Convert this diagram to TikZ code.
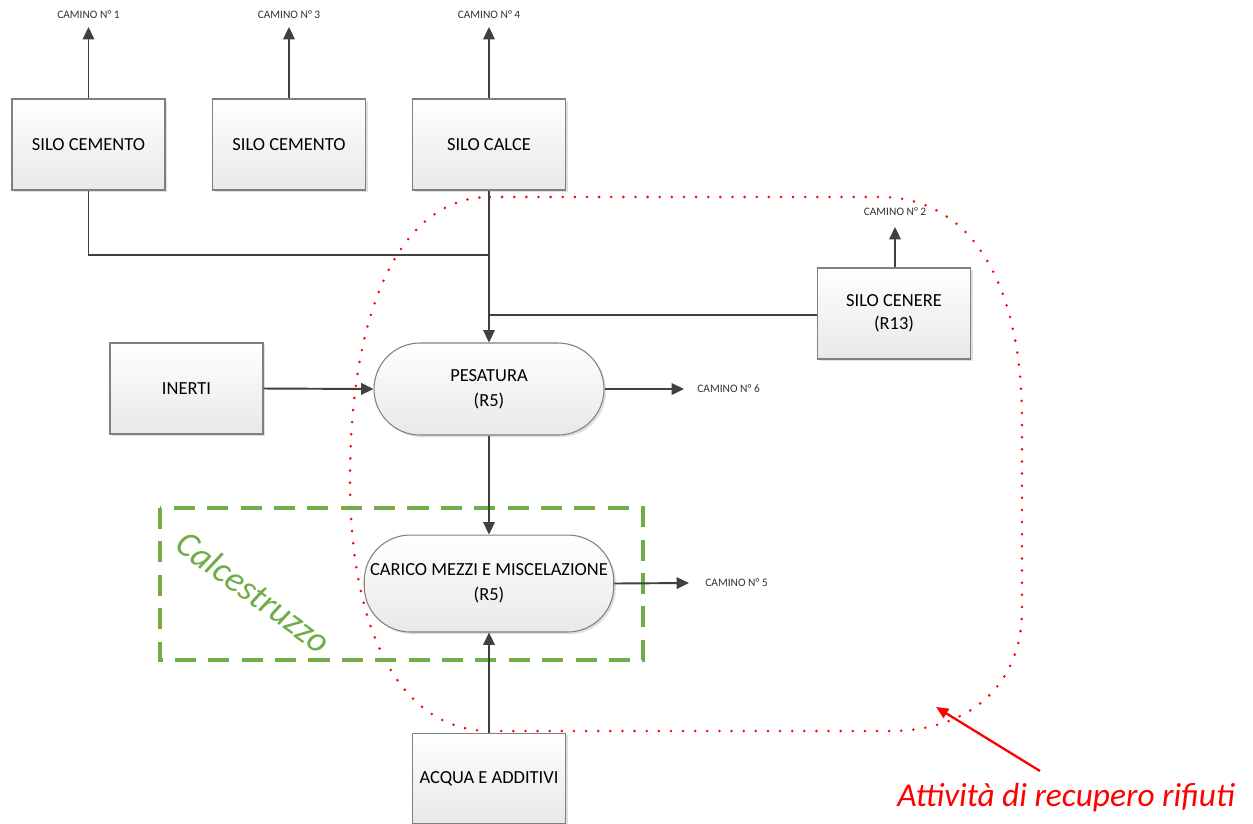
\documentclass[tikz,border=0pt]{standalone}
\usepackage{fontspec}
\setmainfont{Carlito}
\usetikzlibrary{arrows.meta,shadows,positioning}
\definecolor{arrgray}{HTML}{404040}
\definecolor{boxgray}{HTML}{808080}
\definecolor{calgreen}{HTML}{70AD47}
\definecolor{redline}{HTML}{FF0000}
\tikzset{
  x=0.02cm, y=-0.02cm,
  boxnode/.style={draw=boxgray, line width=0.6pt, top color=white, bottom color=black!9,
    minimum width=3.06cm, minimum height=1.82cm, align=center, font=\fontsize{10.5}{13}\selectfont,
    drop shadow={opacity=0.25, shadow xshift=1.2pt, shadow yshift=-1.2pt}},
  procnode/.style={draw=boxgray, line width=0.6pt, top color=white, bottom color=black!9,
    rounded corners=0.92cm, align=center, font=\fontsize{10.5}{14}\selectfont,
    drop shadow={opacity=0.25, shadow xshift=1.2pt, shadow yshift=-1.2pt}},
  lbl/.style={font=\fontsize{6.5}{7}\selectfont, text=black!80, inner sep=0pt},
  arr/.style={draw=arrgray, line width=1.1pt, -{Triangle[length=7pt,width=6.5pt]}},
  plain/.style={draw=arrgray, line width=1.1pt},
}
\begin{document}
\begin{tikzpicture}
\clip (0,0) rectangle (1253,823);
\fill[white] (0,0) rectangle (1253,823);

% red dotted region
\draw[redline, line width=1.6pt, line cap=round, dash pattern=on 0pt off 6.9pt]
  (490,197) -- (880,197) .. controls (975,197) and (1022,290) .. (1022,420)
  -- (1022,610) .. controls (1022,680) and (975,731) .. (890,731)
  -- (490,731) .. controls (405,731) and (350,640) .. (350,480)
  .. controls (350,310) and (400,197) .. (490,197);

% green dashed region
\draw[calgreen, line width=2.4pt, dash pattern=on 12pt off 7pt]
  (160,508) rectangle (643,660);
\node[calgreen, rotate=-36, font=\fontsize{20.5}{20.5}\selectfont\itshape] (calc) at (254,592) {Calcestruzzo};

% boxes
\node[boxnode] (s1) at (88.5,144.5) {SILO CEMENTO};
\node[boxnode] (s3) at (289,144.5) {SILO CEMENTO};
\node[boxnode] (s4) at (489,144.5) {SILO CALCE};
\node[boxnode] (cen) at (894,313.5) {SILO CENERE\\(R13)};
\node[boxnode] (ine) at (186.5,388.5) {INERTI};
\node[boxnode] (acq) at (489,778.5) {ACQUA E ADDITIVI};
\node[procnode, minimum width=4.6cm, minimum height=1.84cm] (pes) at (489,389) {PESATURA\\(R5)};
\node[procnode, minimum width=4.9cm, minimum height=1.94cm] (car) at (489,583.5) {CARICO MEZZI E MISCELAZIONE\\(R5)};

% camino labels
\node[lbl] (c1) at (88.5,15) {CAMINO N° 1};
\node[lbl] (c3) at (289,15) {CAMINO N° 3};
\node[lbl] (c4) at (489,15) {CAMINO N° 4};
\node[lbl] (c2) at (895,212) {CAMINO N° 2};
\node[lbl, anchor=west] (c6) at (697,389) {CAMINO N° 6};
\node[lbl, anchor=west] (c5) at (705,583) {CAMINO N° 5};

\coordinate (t1) at (88.5,27);
\coordinate (t3) at (289,27);
\coordinate (t4) at (489,27);
\coordinate (t2) at (895,227);
\coordinate (t6) at (684,389);
\coordinate (t5) at (689,583);

\draw[arr] (s1.north) -- (t1);
\draw[arr] (s3.north) -- (t3);
\draw[arr] (s4.north) -- (t4);
\draw[arr] (cen.north -| t2) -- (t2);
\draw[arr] (pes.east) -- (t6);
\draw[arr] (car.east) -- (t5);

% flows
\coordinate (j1) at (489,255);
\coordinate (j2) at (489,315);
\draw[plain] (s1.south) |- (j1);
\draw[plain] (cen.west |- j2) -- (j2);
\draw[arr] (s4.south) -- (pes.north);
\draw[arr] (ine.east) -- (pes.west);
\draw[arr] (pes.south) -- (car.north);
\draw[arr] (acq.north) -- (car.south);

% annotation
\node[redline, font=\fontsize{19}{19}\selectfont\itshape] (att) at (1066,798) {Attività di recupero rifiuti};
\coordinate (rt) at (936,707);
\draw[redline, line width=1.3pt, -{Triangle[length=7pt,width=6pt]}] (1040,771) -- (rt);
\end{tikzpicture}
\end{document}
